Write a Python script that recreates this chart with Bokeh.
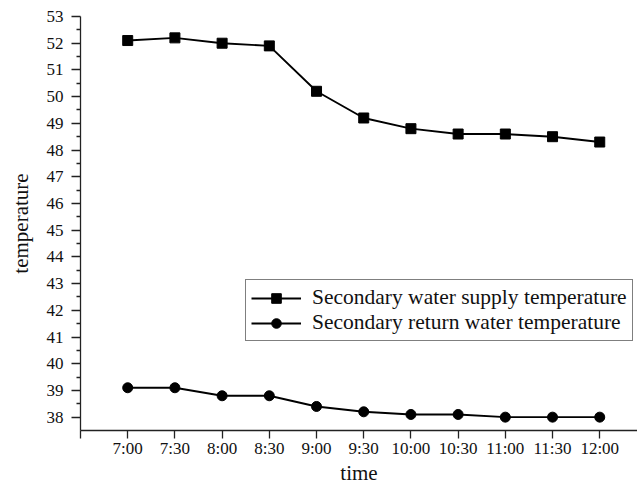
from bokeh.plotting import figure
from bokeh.models import Range1d, FixedTicker, Legend, LegendItem
from bokeh.embed import file_html
from bokeh.resources import INLINE

times = ["7:00", "7:30", "8:00", "8:30", "9:00", "9:30", "10:00", "10:30", "11:00", "11:30", "12:00"]
supply = [52.1, 52.2, 52.0, 51.9, 50.2, 49.2, 48.8, 48.6, 48.6, 48.5, 48.3]
ret = [39.1, 39.1, 38.8, 38.8, 38.4, 38.2, 38.1, 38.1, 38.0, 38.0, 38.0]
y_ticks = list(range(38, 54))

x = list(range(1, len(times) + 1))
FONT = "Liberation Serif"

p = figure(width=637, height=489, output_backend="svg", toolbar_location=None,
           x_range=Range1d(0, 11.8), y_range=Range1d(37.5, 53),
           min_border_left=80, min_border_right=0, min_border_top=16, min_border_bottom=59)
p.outline_line_color = None
p.xgrid.visible = False
p.ygrid.visible = False

l1 = p.line(x, supply, line_color="black", line_width=1.9)
m1 = p.scatter(x, supply, marker="square", size=10, fill_color="black", line_color="black")
l2 = p.line(x, ret, line_color="black", line_width=1.9)
m2 = p.scatter(x, ret, marker="circle", size=10, fill_color="black", line_color="black")

xa = p.xaxis[0]
xa.ticker = FixedTicker(ticks=[0] + x)
xa.major_label_overrides = {0: ""} | {i: t for i, t in zip(x, times)}
xa.major_tick_out = 8
xa.major_tick_in = 0
xa.major_label_standoff = 0
xa.axis_label = "time"
xa.axis_label_standoff = 0

ya = p.yaxis[0]
ya.ticker = FixedTicker(ticks=y_ticks, minor_ticks=[v + 0.5 for v in y_ticks[:-1]])
ya.major_tick_out = 9
ya.major_tick_in = 0
ya.minor_tick_out = 4
ya.minor_tick_in = 0
ya.major_label_standoff = 8
ya.axis_label = "temperature"
ya.axis_label_standoff = 11

for ax in (xa, ya):
    ax.axis_line_color = "#222222"
    ax.axis_line_width = 1.3
    ax.major_tick_line_color = "#222222"
    ax.major_tick_line_width = 1.3
    ax.minor_tick_line_color = "#222222" if ax is ya else None
    ax.minor_tick_line_width = 1.3
    ax.major_label_text_font = FONT
    ax.major_label_text_font_size = "17px"
    ax.major_label_text_color = "#111111"
    ax.axis_label_text_font = FONT
    ax.axis_label_text_font_size = "21px"
    ax.axis_label_text_font_style = "normal"
    ax.axis_label_text_color = "#111111"

legend = Legend(items=[
    LegendItem(label="Secondary water supply temperature", renderers=[l1, m1]),
    LegendItem(label="Secondary return water temperature", renderers=[l2, m2]),
], location=(165, 89))
legend.label_text_font = FONT
legend.label_text_font_size = "21.5px"
legend.label_text_color = "#111111"
legend.border_line_color = "black"
legend.border_line_width = 1.3
legend.background_fill_color = "white"
legend.background_fill_alpha = 1.0
legend.padding = 5
legend.spacing = 0
legend.margin = 0
legend.glyph_width = 50
legend.glyph_height = 24
legend.label_height = 24
legend.label_standoff = 11
p.add_layout(legend, "center")

open("out.html", "w").write(file_html(p, INLINE))
